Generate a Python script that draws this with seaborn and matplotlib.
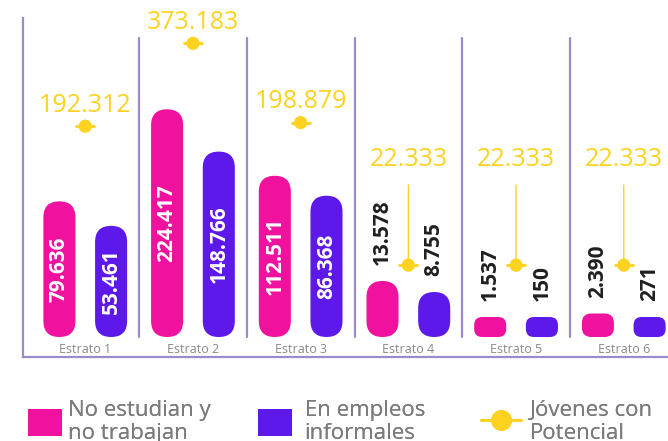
import numpy as np
import pandas as pd
import seaborn as sns
import matplotlib.pyplot as plt
from matplotlib.patches import FancyBboxPatch, Patch
from matplotlib.lines import Line2D
from matplotlib.transforms import IdentityTransform

estratos = ["Estrato 1", "Estrato 2", "Estrato 3", "Estrato 4", "Estrato 5", "Estrato 6"]
ninis = [79636, 224417, 112511, 13578, 1537, 2390]
informales = [53461, 148766, 86368, 8755, 150, 271]
potencial = [192312, 373183, 198879, 22333, 22333, 22333]
series = ["No estudian y\nno trabajan", "En empleos\ninformales", "Jóvenes con\nPotencial"]

PINK = "#F0129F"
PURPLE = "#5D18EA"
YELLOW = "#FFD21F"
FRAME = "#9C8BC9"
GRAY = "#8a8a8a"

df = pd.DataFrame({
    "estrato": estratos * 2,
    "grupo": [series[0]] * len(estratos) + [series[1]] * len(estratos),
    "valor": ninis + informales,
})
pot = pd.DataFrame({"pos": np.arange(len(estratos)), "valor": potencial})


def fmt(v):
    return f"{int(round(v)):,}".replace(",", ".")


sns.set_theme(style="white")
plt.rcParams["font.family"] = ["Open Sans", "DejaVu Sans"]

fig = plt.figure(figsize=(6.68, 4.41), dpi=100)
ax = fig.add_axes([23 / 668, 84 / 441, 654.6 / 668, 339 / 441])

# infographic uses a square-root like length scale
ax.set_yscale("function", functions=(lambda v: np.sign(v) * np.sqrt(np.abs(v)),
                                     lambda v: np.sign(v) * np.square(v)))

sns.barplot(data=df, x="estrato", y="valor", hue="grupo", palette=[PINK, PURPLE],
            saturation=1, width=0.96, gap=0.38, errorbar=None, legend=False, ax=ax)

ax.set_xlim(-0.578, len(estratos) - 0.5)
ax.set_ylim(-1731, 440400)
ax.set_xlabel("")
ax.set_ylabel("")
ax.set_yticks([])
ax.tick_params(axis="x", length=0, pad=-10, labelsize=9, labelcolor=GRAY)

for s in ["top", "right"]:
    ax.spines[s].set_visible(False)
for s in ["left", "bottom"]:
    ax.spines[s].set_color(FRAME)
    ax.spines[s].set_linewidth(1.6)

for i in range(len(estratos) - 1):
    ax.axvline(i + 0.5, ymin=0.059, ymax=0.941, color=FRAME, lw=1.6, zorder=1)

# turn the seaborn bars into rounded pills and label them
for bar in list(ax.patches):
    v = bar.get_height()
    xc = bar.get_x() + bar.get_width() / 2
    (px0, py0), (px1, py1) = ax.transData.transform(
        [(bar.get_x(), 0), (bar.get_x() + bar.get_width(), v)])
    w = px1 - px0
    h = max(py1 - py0, 20)
    r = min(w / 2, 0.4 * h)
    pill = FancyBboxPatch((px0, py0), w, h, boxstyle=f"round,pad=0,rounding_size={r}",
                          transform=IdentityTransform(), fc=bar.get_facecolor(),
                          ec="none", zorder=2)
    ax.add_artist(pill)
    bar.set_visible(False)
    if v > 30000:
        ax.annotate(fmt(v), (xc, 0), xytext=(0, h / 2 * 0.72), textcoords="offset points",
                    rotation=90, ha="center", va="center", color="white",
                    fontsize=15, fontweight="bold", zorder=5)
    else:
        ax.annotate(fmt(v), (xc, 0), xytext=(0, (h + 16) * 0.72), textcoords="offset points",
                    rotation=90, ha="center", va="bottom", color="#1f1f1f",
                    fontsize=15, fontweight="bold", zorder=5)

# Jovenes con potencial
ax.plot(pot["pos"], pot["valor"], ls="none", marker="_", ms=15, mew=2, color=YELLOW, zorder=3)
sns.scatterplot(data=pot, x="pos", y="valor", marker="o", s=90, color=YELLOW,
                edgecolor="none", ax=ax, zorder=4, legend=False)
ax.set_xlabel("")
ax.set_ylabel("")

for i, v in enumerate(potencial):
    if v > 50000:
        ax.annotate(fmt(v), (i, v), xytext=(0, 15), textcoords="offset points",
                    ha="center", va="center", color=YELLOW, fontsize=18)
    else:
        ax.annotate(fmt(v), (i, v), xytext=(0, 76), textcoords="offset points",
                    ha="center", va="center", color=YELLOW, fontsize=18,
                    arrowprops=dict(arrowstyle="-", color=YELLOW, lw=1, shrinkA=7, shrinkB=0))

# legend: one small legend per entry so each sits where the original has it
handles = [
    Patch(fc=PINK, ec="none", label=series[0]),
    Patch(fc=PURPLE, ec="none", label=series[1]),
    Line2D([], [], color=YELLOW, lw=2, marker="o", ms=14, label=series[2]),
]
leg_x = [28, 258, 481]
leg_len = [1.55, 1.55, 1.8]
leg_pad = [0.27, 0.55, 0.4]
for hnd, x, hl, tp in zip(handles, leg_x, leg_len, leg_pad):
    leg = fig.legend(handles=[hnd], loc="upper left", bbox_to_anchor=(x / 668, 1 - 400 / 441),
                     frameon=False, fontsize=16, labelcolor="#7b7b7b",
                     handlelength=hl, handleheight=1.45, handletextpad=tp,
                     borderaxespad=0, borderpad=0)
    for t in leg.get_texts():
        t.set_linespacing(1.1)
    fig.add_artist(leg)

fig.savefig("out.png", dpi=100, facecolor="white")
